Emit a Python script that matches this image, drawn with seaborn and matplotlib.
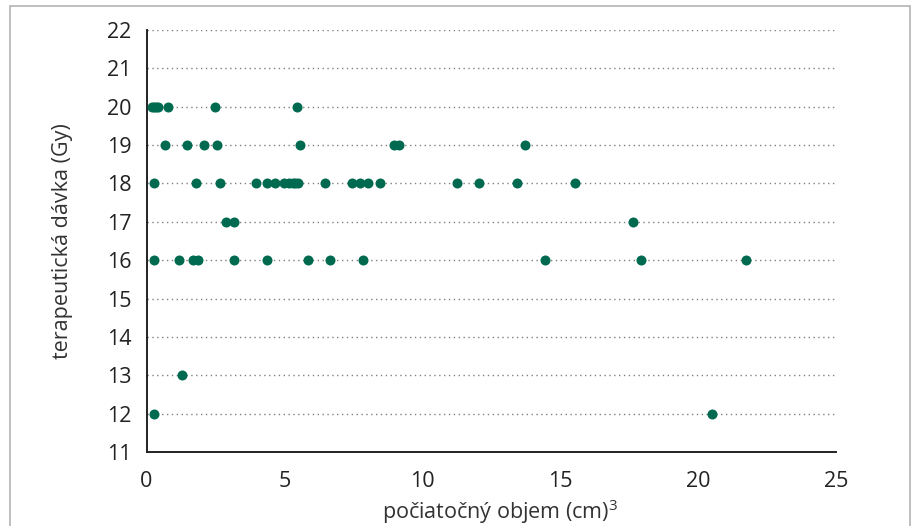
import matplotlib
matplotlib.use("Agg")
import matplotlib.pyplot as plt
import seaborn as sns
import pandas as pd
from matplotlib.patches import Rectangle

# Data
volume_20 = [0.2, 0.27, 0.33, 0.4, 0.79, 2.48, 5.47]
volume_19 = [0.67, 1.48, 2.08, 2.57, 5.57, 8.96, 9.16, 13.74]
volume_18 = [0.27, 1.81, 2.67, 3.97, 4.36, 4.66, 4.97, 5.15, 5.3, 5.4, 5.5,
             6.48, 7.45, 7.74, 8.02, 8.48, 11.25, 12.05, 13.44, 15.55]
volume_17 = [2.87, 3.17, 17.65]
volume_16 = [0.27, 1.19, 1.68, 1.86, 3.17, 4.36, 5.87, 6.66, 7.86,
             14.44, 17.94, 21.73]
volume_13 = [1.27]
volume_12 = [0.27, 20.52]

doses = [20, 19, 18, 17, 16, 13, 12]
volumes = [volume_20, volume_19, volume_18, volume_17, volume_16, volume_13, volume_12]

x_ticks = [0, 5, 10, 15, 20, 25]
y_ticks = list(range(11, 23))

rows = []
for d, vs in zip(doses, volumes):
    for v in vs:
        rows.append({"objem": v, "davka": d})
df = pd.DataFrame(rows)

sns.set_style("white")
plt.rcParams['font.family'] = ['Open Sans', 'DejaVu Sans']
plt.rcParams['mathtext.fontset'] = 'custom'
plt.rcParams['mathtext.rm'] = 'Open Sans'
plt.rcParams['mathtext.it'] = 'Open Sans'

fig = plt.figure(figsize=(9.16, 5.26), dpi=100)
ax = fig.add_axes([146.5 / 916, 1 - 452 / 526, (836 - 146.5) / 916, (452 - 30) / 526])

# figure frame
fig.patches.append(Rectangle((10 / 916, -0.1), (910 - 10) / 916, 1.1 - 6 / 526,
                             transform=fig.transFigure, fill=False,
                             edgecolor="#b4b4b4", linewidth=1.2))

for yv in y_ticks[1:]:
    ax.axhline(yv, color="#808080", linestyle=(0, (1, 2.5)), linewidth=1.0, zorder=1)

sns.scatterplot(data=df, x="objem", y="davka", ax=ax, color="#006a50",
                s=52, linewidth=0, zorder=3, clip_on=False, legend=False)

ax.set_xlim(0, 25)
ax.set_ylim(11, 22)
ax.set_xticks(x_ticks)
ax.set_yticks(y_ticks)
ax.tick_params(axis="both", direction="out", length=6, width=1.0,
               color="#333333", labelsize=15.5, labelcolor="#222222", pad=5)
ax.tick_params(axis="x", pad=8)
for s in ["top", "right"]:
    ax.spines[s].set_visible(False)
for s in ["left", "bottom"]:
    ax.spines[s].set_color("#222222")
    ax.spines[s].set_linewidth(1.4)

ax.set_xlabel(r"počiatočný objem (cm)$^{\mathrm{3}}$", fontsize=15.5, color="#333333")
ax.xaxis.set_label_coords((500 - 146.5) / (836 - 146.5), -(497 - 452) / (452 - 30))
ax.set_ylabel("terapeutická dávka (Gy)", fontsize=15.5, color="#333333")
ax.yaxis.set_label_coords(-(146.5 - 73) / (836 - 146.5), 0.5)

fig.savefig("out.png", dpi=100)
